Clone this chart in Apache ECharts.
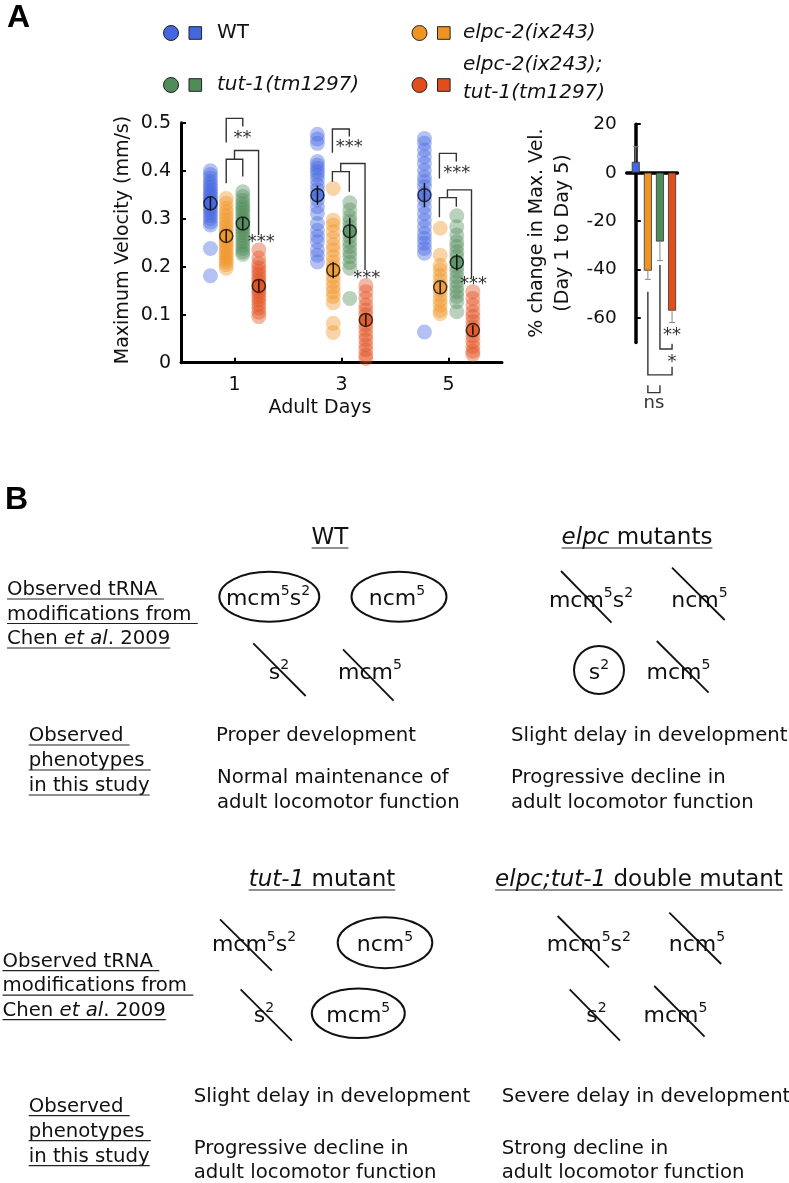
<!DOCTYPE html>
<html><head><meta charset="utf-8">
<script src="https://cdn.jsdelivr.net/npm/echarts@6/dist/echarts.min.js"></script>
<style>html,body{margin:0;padding:0;background:#fff}#c{width:789px;height:1183px}</style>
</head><body><div id="c"></div>
<script>
// ---------------- DATA ----------------
const days = [1, 3, 5];
const groupNames = ['WT', 'elpc-2(ix243)', 'tut-1(tm1297)', 'elpc-2(ix243);tut-1(tm1297)'];
const xTickLabels = [1, 3, 5];
const yTickLabelsBar = [20, 0, -20, -40, -60];

const wtD1 = [0.400,0.392,0.385,0.378,0.372,0.366,0.360,0.355,0.350,0.345,0.340,0.336,0.332,0.328,0.323,0.318,0.312,0.306,0.300,0.293,0.287,0.238,0.181];
const wtD3 = [0.476,0.466,0.457,0.419,0.412,0.405,0.398,0.391,0.381,0.370,0.360,0.349,0.339,0.325,0.311,0.290,0.276,0.263,0.252,0.235,0.224,0.210];
const wtD5 = [0.467,0.457,0.443,0.429,0.415,0.401,0.387,0.377,0.367,0.353,0.339,0.325,0.311,0.297,0.283,0.269,0.259,0.249,0.238,0.228,0.064];

const elpcD1 = [0.342,0.332,0.322,0.314,0.306,0.298,0.290,0.283,0.276,0.270,0.264,0.258,0.252,0.246,0.240,0.234,0.228,0.222,0.216,0.210,0.204,0.197];
const elpcD3 = [0.363,0.297,0.287,0.273,0.259,0.245,0.235,0.221,0.210,0.200,0.190,0.179,0.169,0.158,0.148,0.138,0.125,0.082,0.063];
const elpcD5 = [0.280,0.224,0.203,0.193,0.182,0.172,0.161,0.151,0.140,0.130,0.120,0.109,0.102];

const tutD1 = [0.356,0.346,0.338,0.331,0.325,0.319,0.313,0.307,0.301,0.295,0.289,0.283,0.277,0.271,0.265,0.259,0.252,0.245,0.238,0.231,0.226];
const tutD3 = [0.333,0.318,0.304,0.294,0.283,0.273,0.263,0.252,0.242,0.231,0.221,0.209,0.197,0.134];
const tutD5 = [0.306,0.283,0.266,0.252,0.242,0.231,0.221,0.210,0.200,0.190,0.179,0.169,0.158,0.148,0.138,0.127,0.106];

const dblD1 = [0.235,0.218,0.206,0.198,0.190,0.183,0.176,0.169,0.162,0.156,0.150,0.144,0.137,0.130,0.122,0.114,0.105,0.096];
const dblD3 = [0.161,0.148,0.134,0.120,0.110,0.100,0.089,0.079,0.069,0.058,0.048,0.037,0.027,0.016,0.009];
const dblD5 = [0.148,0.134,0.120,0.106,0.096,0.086,0.075,0.065,0.055,0.044,0.034,0.024,0.017];

const wtMean = [0.332, 0.349, 0.349],   wtErr = [0.015, 0.020, 0.025];
const elpcMean = [0.264, 0.193, 0.157], elpcErr = [0.013, 0.017, 0.012];
const tutMean = [0.290, 0.274, 0.209],  tutErr = [0.013, 0.028, 0.017];
const dblMean = [0.160, 0.089, 0.068],  dblErr = [0.012, 0.012, 0.010];

// [x1, x2, yTop, yLeftEnd, yRightEnd] in data units
const sigBracketsA = [
  [0.845, 1.155, 0.509, 0.459, 0.492],
  [0.845, 1.155, 0.424, 0.374, 0.388],
  [1.000, 1.450, 0.442, 0.424, 0.266],
  [2.830, 3.146, 0.487, 0.4375, 0.471],
  [2.830, 3.146, 0.398, 0.377, 0.356],
  [2.985, 3.440, 0.415, 0.398, 0.193],
  [4.830, 5.146, 0.436, 0.384, 0.419],
  [4.830, 5.146, 0.344, 0.303, 0.325],
  [4.980, 5.430, 0.360, 0.344, 0.176]
];
const sigLabelsA = [[1.15, 0.476, '**'], [1.50, 0.260, '***'], [3.144, 0.457, '***'], [3.47, 0.184, '***'], [5.153, 0.403, '***'], [5.465, 0.171, '***']];

const pctChange = [4.5, -40.4, -28.4, -56.9];
const pctErr = [6.2, 3.6, 7.9, 4.9];
const sigBracketsB = [
  [2, 3, -72.7, -38.1, -70.6],
  [1, 3, -83.4, -49.1, -80.0],
  [1, 2, -90.7, -87.7, -87.7]
];
const sigLabelsB = [[3, -65.6, '**'], [3, -76.5, '*'], [1.5, -95, 'ns']];

// ---------------- STYLE / LAYOUT ----------------
const FONT = "'DejaVu Sans', Verdana, sans-serif";
const colors = ['#4466e0', '#ef9422', '#4f8c5a', '#e24e1b'];
const groupOffsets = [-0.45, -0.155, 0.155, 0.455];
const dots = [[wtD1, wtD3, wtD5], [elpcD1, elpcD3, elpcD5], [tutD1, tutD3, tutD5], [dblD1, dblD3, dblD5]];
const means = [wtMean, elpcMean, tutMean, dblMean];
const errs = [wtErr, elpcErr, tutErr, dblErr];

function hexA(h, a) {
  const r = parseInt(h.slice(1,3),16), g = parseInt(h.slice(3,5),16), b = parseInt(h.slice(5,7),16);
  return `rgba(${r},${g},${b},${a})`;
}

const series = [];
groupNames.forEach((name, g) => {
  const data = [];
  days.forEach((d, di) => dots[g][di].forEach(v => data.push([d + groupOffsets[g], v])));
  series.push({ type: 'scatter', name, xAxisIndex: 0, yAxisIndex: 0, data, symbolSize: 15, z: 2,
    itemStyle: { color: hexA(colors[g], 0.5) }, silent: true });
});
groupNames.forEach((name, g) => {
  series.push({ type: 'scatter', name: name + ' mean', xAxisIndex: 0, yAxisIndex: 0, z: 3, symbolSize: 13,
    data: days.map((d, di) => [d + groupOffsets[g], means[g][di]]),
    itemStyle: { color: hexA(colors[g], 0.8), borderColor: '#111', borderWidth: 1.5 } });
});
const errData = [];
groupNames.forEach((n, g) => days.forEach((d, di) => errData.push([d + groupOffsets[g], means[g][di], errs[g][di]])));
series.push({ type: 'custom', xAxisIndex: 0, yAxisIndex: 0, z: 4, clip: false, data: errData,
  renderItem(params, api) {
    const x = api.value(0), m = api.value(1), e = api.value(2);
    const p1 = api.coord([x, m + e]), p2 = api.coord([x, m - e]);
    return { type: 'line', shape: { x1: p1[0], y1: p1[1], x2: p2[0], y2: p2[1] }, style: { stroke: '#111', lineWidth: 1.5 } };
  } });
function bracketSeries(xi, data) {
  return { type: 'custom', xAxisIndex: xi, yAxisIndex: xi, z: 5, clip: false, data, silent: true,
    renderItem(params, api) {
      const x1 = api.value(0), x2 = api.value(1), yt = api.value(2), yl = api.value(3), yr = api.value(4);
      const pts = [api.coord([x1, yl]), api.coord([x1, yt]), api.coord([x2, yt]), api.coord([x2, yr])];
      return { type: 'polyline', shape: { points: pts }, style: { stroke: '#333', lineWidth: 1.4, fill: null } };
    } };
}
function labelSeries(xi, labels) {
  return { type: 'custom', xAxisIndex: xi, yAxisIndex: xi, z: 6, clip: false, silent: true,
    data: labels.map(l => [l[0], l[1]]),
    renderItem(params, api) {
      const p = api.coord([api.value(0), api.value(1)]);
      const t = labels[params.dataIndex][2];
      const star = t.indexOf('*') >= 0;
      return { type: 'text', x: p[0], y: p[1] + (star ? 4 : 0),
        style: { text: t, fontSize: 18, fontFamily: FONT, fill: '#333', align: 'center', verticalAlign: 'middle' } };
    } };
}
series.push(bracketSeries(0, sigBracketsA));
series.push(labelSeries(0, sigLabelsA));

series.push({ type: 'bar', xAxisIndex: 1, yAxisIndex: 1, barWidth: 8, z: 2,
  data: pctChange.map((v, i) => ({ value: [i, v], itemStyle: { color: colors[i], borderColor: '#333', borderWidth: 0.8 } })) });
series.push({ type: 'custom', xAxisIndex: 1, yAxisIndex: 1, z: 3, clip: false,
  data: pctChange.map((v, i) => [i, v, pctErr[i]]),
  renderItem(params, api) {
    const x = api.value(0), v = api.value(1), e = api.value(2);
    const end = v >= 0 ? v + e : v - e;
    const p1 = api.coord([x, v]), p2 = api.coord([x, end]);
    return { type: 'group', children: [
      { type: 'line', shape: { x1: p1[0], y1: p1[1], x2: p2[0], y2: p2[1] }, style: { stroke: '#888', lineWidth: 1 } },
      { type: 'line', shape: { x1: p2[0] - 3, y1: p2[1], x2: p2[0] + 3, y2: p2[1] }, style: { stroke: '#888', lineWidth: 1 } }
    ] };
  } });
series.push(bracketSeries(1, sigBracketsB));
series.push(labelSeries(1, sigLabelsB));

// ---------------- GRAPHICS ----------------
const mctx = document.createElement('canvas').getContext('2d');
function measure(parts, size) {
  let w = 0;
  for (const [t, it] of parts) { mctx.font = (it ? 'italic ' : '') + size + 'px ' + FONT; w += mctx.measureText(t).width; }
  return w;
}
function richStr(parts) { return parts.map(([t, it]) => '{' + (it ? 'i' : 'n') + '|' + t + '}').join(''); }
const graphics = [];
function addText(x, y, parts, size, opts = {}) {
  const w = measure(parts, size);
  const left = opts.center ? x - w / 2 : x;
  graphics.push({ type: 'text', x: left, y, style: { text: richStr(parts), fontSize: size, fontFamily: FONT,
    rich: { n: { fontSize: size, fontFamily: FONT, fill: '#111' }, i: { fontSize: size, fontFamily: FONT, fontStyle: 'italic', fill: '#111' } },
    align: 'left', verticalAlign: 'middle' } });
  if (opts.underline) graphics.push({ type: 'line', shape: { x1: left, y1: y + opts.underline, x2: left + w, y2: y + opts.underline }, style: { stroke: '#222', lineWidth: 1.2 } });
}
graphics.push({ type: 'text', x: 7, y: 2, style: { text: 'A', fontSize: 32, fontWeight: 'bold', fontFamily: "'Liberation Sans', Arial, sans-serif", fill: '#000', verticalAlign: 'top' } });
graphics.push({ type: 'text', x: 5, y: 484, style: { text: 'B', fontSize: 32, fontWeight: 'bold', fontFamily: "'Liberation Sans', Arial, sans-serif", fill: '#000', verticalAlign: 'top' } });

const legendPos = [[171, 33], [419.5, 33], [171, 85], [419.5, 85]];
legendPos.forEach(([cx, cy], g) => {
  graphics.push({ type: 'circle', shape: { cx, cy, r: 7.5 }, style: { fill: colors[g], stroke: '#222', lineWidth: 1 } });
  graphics.push({ type: 'rect', shape: { x: cx + 18, y: cy - 6.3, width: 12.6, height: 12.6 }, style: { fill: colors[g], stroke: '#222', lineWidth: 1 } });
});
addText(217, 33, [['WT', 0]], 20);
addText(463, 33, [['elpc-2(ix243)', 1]], 20);
addText(217, 85, [['tut-1(tm1297)', 1]], 20);
addText(463, 65, [['elpc-2(ix243);', 1]], 20);
addText(463, 93, [['tut-1(tm1297)', 1]], 20);

graphics.push({ type: 'text', x: 123, y: 240, rotation: Math.PI / 2, style: { text: 'Maximum Velocity (mm/s)', fontSize: 19, fontFamily: FONT, fill: '#111', align: 'center', verticalAlign: 'middle' } });
graphics.push({ type: 'text', x: 320, y: 408, style: { text: 'Adult Days', fontSize: 19, fontFamily: FONT, fill: '#111', align: 'center', verticalAlign: 'middle' } });
graphics.push({ type: 'text', x: 550, y: 233, rotation: Math.PI / 2, style: { text: '% change in Max. Vel.\n(Day 1 to Day 5)', fontSize: 19, lineHeight: 26, fontFamily: FONT, fill: '#111', align: 'center', verticalAlign: 'middle' } });

const BS = 19.7, TS = 23, CS = 22, SS = 14;
addText(330, 538, [['WT', 0]], TS, { center: true, underline: 10 });
addText(637, 538, [['elpc', 1], [' mutants', 0]], TS, { center: true, underline: 10 });
addText(322, 880, [['tut-1', 1], [' mutant', 0]], TS, { center: true, underline: 10 });
addText(639, 880, [['elpc;tut-1', 1], [' double mutant', 0]], TS, { center: true, underline: 10 });

function leftLabels(x, y0) {
  addText(x, y0, [['Observed tRNA ', 0]], BS, { underline: 9 });
  addText(x, y0 + 24.5, [['modifications from ', 0]], BS, { underline: 9 });
  addText(x, y0 + 49, [['Chen ', 0], ['et al', 1], ['. 2009', 0]], BS, { underline: 9 });
}
leftLabels(7, 590);
leftLabels(2.5, 961.7);
function phenoLabels(x, y0) {
  addText(x, y0, [['Observed ', 0]], BS, { underline: 9 });
  addText(x, y0 + 25, [['phenotypes ', 0]], BS, { underline: 9 });
  addText(x, y0 + 50, [['in this study', 0]], BS, { underline: 9 });
}
phenoLabels(28.7, 736);
phenoLabels(28.7, 1106.7);

addText(216, 736, [['Proper development', 0]], BS);
addText(217, 778, [['Normal maintenance of', 0]], BS);
addText(217, 802.7, [['adult locomotor function', 0]], BS);
addText(511, 736, [['Slight delay in development', 0]], BS);
addText(511, 778, [['Progressive decline in', 0]], BS);
addText(511, 802.7, [['adult locomotor function', 0]], BS);
addText(193.8, 1096.7, [['Slight delay in development', 0]], BS);
addText(193.8, 1149.3, [['Progressive decline in', 0]], BS);
addText(193.8, 1173, [['adult locomotor function', 0]], BS);
addText(501.8, 1096.7, [['Severe delay in development', 0]], BS);
addText(501.8, 1149.3, [['Strong decline in', 0]], BS);
addText(501.8, 1173, [['adult locomotor function', 0]], BS);

// chemical names with superscripts
const MOD = { mcm5s2: [['mcm', 'm'], ['5', 's'], ['s', 'm'], ['2', 's']], ncm5: [['ncm', 'm'], ['5', 's']], s2: [['s', 'm'], ['2', 's']], mcm5: [['mcm', 'm'], ['5', 's']] };
const chem = [
  [268, 597, 'mcm5s2', 'e', [269.3, 596.7, 50, 25]],
  [397, 597, 'ncm5', 'e', [399, 596.7, 47.5, 25]],
  [279, 671, 's2', 's', [253.3, 643.3, 305.7, 696]],
  [370, 671, 'mcm5', 's', [343, 649.3, 393.5, 700.7]],
  [591, 599, 'mcm5s2', 's', [561, 571, 611.5, 622.7]],
  [699.5, 599, 'ncm5', 's', [672, 567.7, 724.7, 620]],
  [599, 671, 's2', 'e', [599, 670, 25, 24]],
  [678.4, 671, 'mcm5', 's', [656.8, 641, 708.6, 692.7]],
  [254, 943.7, 'mcm5s2', 's', [220, 919.3, 271.8, 970.7]],
  [385, 943.7, 'ncm5', 'e', [385, 942.7, 47.3, 25.5]],
  [264, 1014.3, 's2', 's', [240.6, 989.3, 291.9, 1040.7]],
  [358.3, 1014.3, 'mcm5', 'e', [358.3, 1013.3, 46.5, 24.8]],
  [588.8, 943.7, 'mcm5s2', 's', [557.6, 916, 609, 967.3]],
  [697, 943.7, 'ncm5', 's', [669.3, 912.7, 721.2, 964]],
  [596.4, 1014, 's2', 's', [569.7, 989.3, 620, 1040.7]],
  [675.4, 1014, 'mcm5', 's', [654.3, 986, 704.6, 1036.7]]
];
chem.forEach(([cx, cy, key, kind, g]) => {
  const txt = MOD[key].map(([t, k]) => '{' + k + '|' + t + '}').join('');
  graphics.push({ type: 'text', x: cx, y: cy, style: { text: txt, fontSize: CS, fontFamily: FONT, fill: '#111', align: 'center', verticalAlign: 'middle',
    rich: { m: { fontSize: CS, fontFamily: FONT, fill: '#111', verticalAlign: 'bottom', lineHeight: 26 }, s: { fontSize: SS, fontFamily: FONT, fill: '#111', verticalAlign: 'top', lineHeight: 14 } } } });
  if (kind === 'e') graphics.push({ type: 'ellipse', shape: { cx: g[0], cy: g[1], rx: g[2], ry: g[3] }, style: { fill: null, stroke: '#111', lineWidth: 2 } });
  else graphics.push({ type: 'line', shape: { x1: g[0], y1: g[1], x2: g[2], y2: g[3] }, style: { stroke: '#111', lineWidth: 1.8 } });
});

// ---------------- CHART ----------------
const chart = echarts.init(document.getElementById('c'), null, { renderer: 'canvas' });
const axisTextStyle = { fontSize: 19, fontFamily: FONT, color: '#111' };
chart.setOption({
  animation: false,
  backgroundColor: '#fff',
  grid: [
    { left: 181, top: 122.7, width: 321, height: 240 },
    { left: 626.7, top: 124.2, width: 50.8, height: 218.2 }
  ],
  xAxis: [
    { type: 'value', gridIndex: 0, min: 0, max: 6, interval: 1,
      axisLine: { lineStyle: { color: '#000', width: 3 } },
      axisTick: { inside: true, length: 5, lineStyle: { color: '#000', width: 2 }, customValues: xTickLabels },
      axisLabel: { ...axisTextStyle, margin: 13, customValues: xTickLabels },
      splitLine: { show: false } },
    { type: 'value', gridIndex: 1, min: -0.75, max: 3.45,
      axisLine: { onZero: true, lineStyle: { color: '#000', width: 3.5 } },
      axisTick: { show: false }, axisLabel: { show: false }, splitLine: { show: false } }
  ],
  yAxis: [
    { type: 'value', gridIndex: 0, min: 0, max: 0.5, interval: 0.1,
      axisLine: { show: true, lineStyle: { color: '#000', width: 3 } },
      axisTick: { show: true, inside: true, length: 5, lineStyle: { color: '#000', width: 2 } },
      axisLabel: { ...axisTextStyle, margin: 10 },
      splitLine: { show: false } },
    { type: 'value', gridIndex: 1, min: -70, max: 20,
      axisLine: { show: true, lineStyle: { color: '#000', width: 3.5 } },
      axisTick: { show: true, inside: true, length: 5, lineStyle: { color: '#000', width: 2 }, customValues: yTickLabelsBar },
      axisLabel: { ...axisTextStyle, fontSize: 18.5, margin: 10, customValues: yTickLabelsBar },
      splitLine: { show: false } }
  ],
  graphic: graphics,
  series
});
</script></body></html>
